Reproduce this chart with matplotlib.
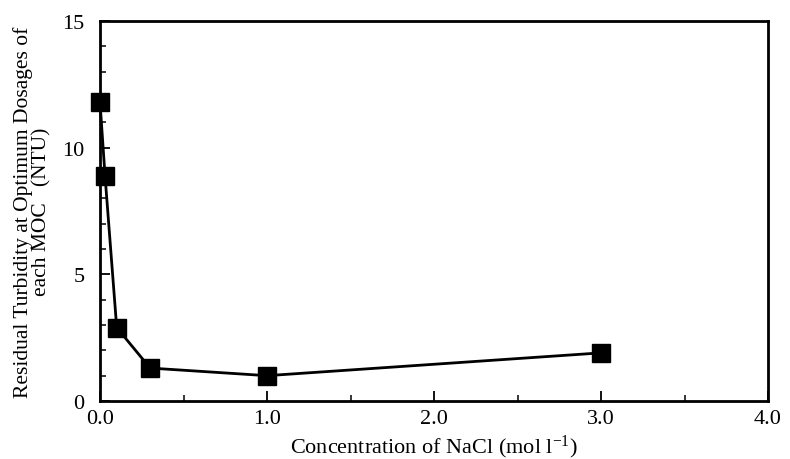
import matplotlib.pyplot as plt
from matplotlib.ticker import MultipleLocator

plt.rcParams['font.family'] = ['Liberation Serif', 'DejaVu Serif']
plt.rcParams['mathtext.fontset'] = 'custom'
plt.rcParams['mathtext.rm'] = 'Liberation Serif'
plt.rcParams['mathtext.it'] = 'Liberation Serif:italic'
plt.rcParams['mathtext.bf'] = 'Liberation Serif:bold'

# NaCl concentration (mol/l) vs residual turbidity (NTU)
nacl = [0.0, 0.03, 0.1, 0.3, 1.0, 3.0]
turbidity = [11.8, 8.9, 2.9, 1.3, 1.0, 1.9]
xticks = [0.0, 1.0, 2.0, 3.0, 4.0]
yticks = [0, 5, 10, 15]

fig = plt.figure(figsize=(7.9, 4.6), dpi=100)
ax = fig.add_axes([100 / 790, 58 / 460, 668 / 790, 380 / 460])

ax.plot(nacl, turbidity, color='black', lw=2, marker='s', ms=13,
        mfc='black', mec='black', clip_on=False, zorder=3)

ax.set_xlim(0, 4.0)
ax.set_ylim(0, 15)
ax.set_xticks(xticks)
ax.set_xticklabels([f"{t:.1f}" for t in xticks])
ax.set_yticks(yticks)
ax.xaxis.set_minor_locator(MultipleLocator(0.5))
ax.yaxis.set_minor_locator(MultipleLocator(1))
ax.tick_params(which='major', direction='in', length=7, width=1.3, labelsize=16)
ax.tick_params(axis='x', which='major', pad=6)
ax.tick_params(axis='y', which='major', pad=11)
ax.tick_params(which='minor', direction='in', length=4, width=1.1)
for s in ax.spines.values():
    s.set_linewidth(2)

ax.set_xlabel(r"Concentration of NaCl (mol l$^{\mathrm{-1}}$)", fontsize=16, labelpad=3)
ax.set_ylabel("Residual Turbidity at Optimum Dosages of\neach MOC   (NTU)",
              fontsize=15.5, linespacing=0.95, labelpad=8)

fig.savefig('out.png', dpi=100)
